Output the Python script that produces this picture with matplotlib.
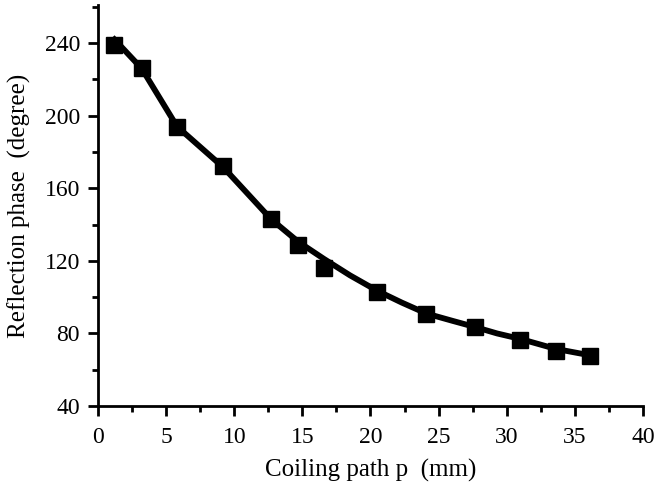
import matplotlib.pyplot as plt
from matplotlib.ticker import MultipleLocator

# measured points (coiling path p in mm, reflection phase in degree)
p_mm = [1.2, 3.2, 5.8, 9.2, 12.7, 14.7, 16.6, 20.5, 24.1, 27.7, 31.0, 33.6, 36.1]
phase = [239, 226, 193.5, 172, 143, 129, 116, 103, 90.5, 83.5, 76.5, 70.5, 67.5]

# fitted trend curve
fit_p = [1.2, 3.2, 5.8, 9.2, 12.7, 14.7, 16.6, 18.5, 20.5,
         22.3, 24.1, 26.0, 27.7, 29.3, 31.0, 33.6, 36.1]
fit_phase = [242, 226, 194, 171.5, 143, 130.5, 121, 112, 103.5,
             97, 91, 87, 83.5, 80, 77, 71.5, 68]

plt.rcParams['font.family'] = ['Liberation Serif', 'DejaVu Serif']

fig = plt.figure(figsize=(6.54, 4.94), dpi=100)
ax = fig.add_axes([0.150, 0.178, 0.833, 0.812])

ax.plot(fit_p, fit_phase, color='black', lw=4.2, solid_capstyle='projecting',
        solid_joinstyle='round')
ax.plot(p_mm, phase, 's', color='black', ms=11)

ax.set_xlim(0, 40)
ax.set_ylim(40, 261)
ax.xaxis.set_major_locator(MultipleLocator(5))
ax.xaxis.set_minor_locator(MultipleLocator(2.5))
ax.yaxis.set_major_locator(MultipleLocator(40))
ax.yaxis.set_minor_locator(MultipleLocator(20))

for s in ['top', 'right']:
    ax.spines[s].set_visible(False)
for s in ['left', 'bottom']:
    ax.spines[s].set_linewidth(2)

ax.tick_params(which='major', direction='out', length=7, width=2, labelsize=17)
ax.tick_params(axis='x', which='major', pad=8)
ax.tick_params(axis='y', which='major', pad=6)
ax.tick_params(which='minor', direction='out', length=4, width=2)

ax.set_xlabel('Coiling path p  (mm)', fontsize=18, labelpad=8)
ax.set_ylabel('Reflection phase  (degree)', fontsize=18, labelpad=10)

fig.savefig('out.png', dpi=100)
